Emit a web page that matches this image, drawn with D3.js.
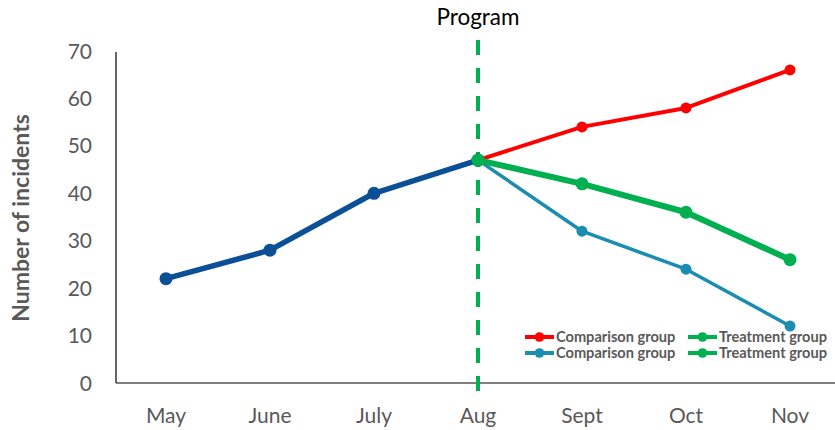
<!DOCTYPE html>
<html>
<head>
<meta charset="utf-8">
<script src="https://cdn.jsdelivr.net/npm/d3@7/dist/d3.min.js"></script>
<style>
  body { margin: 0; background: #fff; }
  text { font-family: Lato, "Open Sans", sans-serif; }
</style>
</head>
<body>
<svg id="chart" width="835" height="430"></svg>
<script>
// data
const months = ['May', 'June', 'July', 'Aug', 'Sept', 'Oct', 'Nov'];
const before = [22, 28, 40, 47];              // May..Aug
const comparisonA = [47, 54, 58, 66];          // Aug..Nov (red)
const treatmentA = [47, 42, 36, 26];           // Aug..Nov (green)
const comparisonB = [47, 32, 24, 12];          // Aug..Nov (teal)
const yTicks = [0, 10, 20, 30, 40, 50, 60, 70];
const programMonth = 'Aug';

const svg = d3.select('#chart');
const grey = '#595959';

// scales
const x = d3.scalePoint().domain(months).range([166, 790]);
const y = d3.scaleLinear().domain([0, 70]).range([383, 51]);

// axes lines
svg.append('line').attr('x1', 116).attr('x2', 835).attr('y1', y(0)).attr('y2', y(0))
  .attr('stroke', '#000').attr('stroke-width', 1.2);
svg.append('line').attr('x1', 116).attr('x2', 116).attr('y1', 52).attr('y2', y(0))
  .attr('stroke', '#000').attr('stroke-width', 1.2);

// y tick labels
svg.selectAll('.ytick').data(yTicks).enter().append('text')
  .attr('x', 92).attr('y', d => y(d)).attr('dy', '0.36em')
  .attr('text-anchor', 'end').attr('fill', grey).attr('font-size', 21)
  .text(d => d);

// x tick labels
svg.selectAll('.xtick').data(months).enter().append('text')
  .attr('x', d => x(d)).attr('y', 423)
  .attr('text-anchor', 'middle').attr('fill', grey).attr('font-size', 21)
  .text(d => d);

// y axis title
svg.append('text')
  .attr('transform', 'translate(29,' + 218 + ') rotate(-90)')
  .attr('text-anchor', 'middle').attr('fill', grey)
  .attr('font-size', 23).attr('font-weight', 'bold')
  .text('Number of incidents');

// program marker
svg.append('line')
  .attr('x1', x(programMonth)).attr('x2', x(programMonth))
  .attr('y1', 40).attr('y2', 399)
  .attr('stroke', '#00b050').attr('stroke-width', 4)
  .attr('stroke-dasharray', '15,13');
svg.append('text').attr('x', x(programMonth)).attr('y', 25)
  .attr('text-anchor', 'middle').attr('fill', '#000').attr('font-size', 22.5)
  .text('Program');

// series
const after = months.slice(3);
const series = [
  { months: months.slice(0, 4), values: before, color: '#0b4f96', width: 5.5, r: 6.5 },
  { months: after, values: comparisonA, color: '#ff0000', width: 4, r: 5.5 },
  { months: after, values: comparisonB, color: '#1a8db0', width: 3.5, r: 5.5 },
  { months: after, values: treatmentA, color: '#00b050', width: 6, r: 6.5 }
];

const line = d3.line().x(d => x(d.m)).y(d => y(d.v));

series.forEach(s => {
  const pts = s.months.map((m, i) => ({ m: m, v: s.values[i] }));
  svg.append('path').datum(pts)
    .attr('d', line).attr('fill', 'none')
    .attr('stroke', s.color).attr('stroke-width', s.width)
    .attr('stroke-linejoin', 'round');
  svg.selectAll(null).data(pts).enter().append('circle')
    .attr('cx', d => x(d.m)).attr('cy', d => y(d.v)).attr('r', s.r)
    .attr('fill', s.color);
});

// legend
const legend = [
  { label: 'Comparison group', color: '#ff0000', col: 0, row: 0 },
  { label: 'Treatment group', color: '#00b050', col: 1, row: 0 },
  { label: 'Comparison group', color: '#1a8db0', col: 0, row: 1 },
  { label: 'Treatment group', color: '#00b050', col: 1, row: 1 }
];
const lg = svg.append('g').selectAll('g').data(legend).enter().append('g')
  .attr('transform', d => 'translate(' + (525 + d.col * 163) + ',' + (337 + d.row * 16) + ')');
lg.append('line').attr('x1', 0).attr('x2', 29).attr('y1', 0).attr('y2', 0)
  .attr('stroke', d => d.color).attr('stroke-width', 4);
lg.append('circle').attr('cx', 14.5).attr('cy', 0).attr('r', 4.8).attr('fill', d => d.color);
lg.append('text').attr('x', 31).attr('y', 0).attr('dy', '0.36em')
  .attr('fill', grey).attr('font-size', 14.6).attr('font-weight', 'bold')
  .text(d => d.label);
</script>
</body>
</html>
